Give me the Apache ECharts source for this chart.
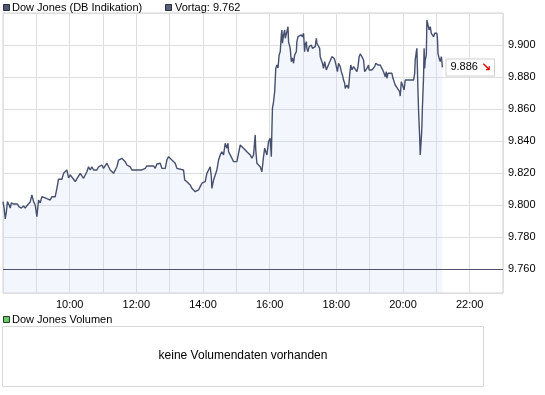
<!DOCTYPE html>
<html><head><meta charset="utf-8">
<script src="https://cdn.jsdelivr.net/npm/echarts@6/dist/echarts.min.js"></script>
<style>html,body{margin:0;padding:0;background:#fff}#c{width:545px;height:395px}</style>
</head><body><div id="c"></div>
<script>
const seriesName = 'Dow Jones (DB Indikation)';
const prevLabel = 'Vortag';
const prevClose = 9.762;
const volumeTitle = 'Dow Jones Volumen';
const volumeNote = 'keine Volumendaten vorhanden';

const times = [
"08:00","08:02","08:04","08:06","08:08","08:11","08:13","08:15","08:19","08:22",
"08:26","08:29","08:33","08:37","08:40","08:44","08:47","08:49","08:52","08:55",
"08:58","09:01","09:04","09:07","09:10","09:13","09:16","09:20","09:25","09:28",
"09:34","09:37","09:40","09:46","09:49","09:52","09:55","09:58","10:01","10:07",
"10:10","10:14","10:19","10:22","10:25","10:31","10:34","10:37","10:40","10:43",
"10:46","10:49","10:52","10:55",
"10:58","11:01","11:04","11:07","11:10","11:13","11:16","11:19","11:22","11:25",
"11:28","11:34","11:37","11:40","11:43","11:46","11:49","11:52","11:55","11:58",
"12:10","12:11","12:16","12:19","12:31","12:34","12:37","12:40","12:43","12:46",
"12:52","12:55","12:58","13:01","13:04","13:07","13:10","13:13","13:16","13:25",
"13:27","13:31","13:34",
"13:37","13:40","13:43","13:46","13:52","13:55","13:58","14:01","14:04","14:07",
"14:10","14:13","14:15","14:16","14:19","14:22","14:25","14:28","14:31","14:34",
"14:37","14:40","14:43","14:45","14:46","14:49","14:52","14:55","14:58","15:01",
"15:04","15:07","15:10","15:13","15:16","15:19","15:22","15:25","15:28","15:31",
"15:34","15:35","15:37","15:40","15:43","15:46","15:49","15:51","15:52","15:55",
"15:58","16:01","16:03","16:04",
"16:05","16:07","16:09","16:11","16:13","16:15","16:17","16:19","16:21","16:22",
"16:23","16:25","16:27","16:28","16:30","16:31","16:33","16:34","16:37","16:39",
"16:41","16:43","16:45","16:48","16:49","16:51","16:53","16:57","16:59","17:01",
"17:03","17:04","17:06","17:07","17:09","17:11","17:13","17:15","17:17","17:19",
"17:22","17:24","17:25","17:28","17:30","17:31","17:33","17:35","17:37","17:39",
"17:42","17:43","17:45","17:47","17:49","17:52","17:54","17:56","17:58","18:00",
"18:02","18:04","18:07","18:09","18:11","18:13","18:15","18:16","18:19","18:22",
"18:24","18:26","18:28","18:31","18:34",
"18:37","18:39","18:41","18:43","18:46","18:49","18:51","18:53","18:55","18:58",
"18:59","19:04","19:07","19:09","19:11","19:13","19:15","19:17","19:19","19:22",
"19:25","19:27","19:28","19:30","19:31","19:33","19:35","19:40","19:42","19:44",
"19:46","19:48","19:50","19:52","19:54","19:55","19:57","19:58","20:00","20:02",
"20:04","20:19","20:21","20:22","20:24","20:25","20:27","20:28","20:30","20:31",
"20:33","20:34","20:35","20:37","20:38","20:39","20:40","20:42","20:43","20:45",
"20:47","20:49","20:51","20:53","20:55","20:57","20:58","21:01","21:02","21:03",
"21:05","21:07","21:09","21:10","21:11"
];

const values = [
9.8021,9.7981,9.7913,9.7956,9.8021,9.8000,9.7981,9.8013,9.8006,9.7994,
9.8006,9.7988,9.7981,9.7994,9.7981,9.8000,9.7988,9.8019,9.8063,9.8021,
9.8000,9.7927,9.8031,9.8013,9.8052,9.8063,9.8044,9.8038,9.8031,9.8052,
9.8052,9.8104,9.8161,9.8161,9.8198,9.8188,9.8219,9.8169,9.8188,9.8161,
9.8146,9.8169,9.8198,9.8194,9.8167,9.8208,9.8239,9.8219,9.8239,9.8219,
9.8229,9.8219,9.8239,9.8229,
9.8250,9.8229,9.8239,9.8261,9.8250,9.8219,9.8208,9.8198,9.8192,9.8239,
9.8281,9.8292,9.8302,9.8271,9.8250,9.8261,9.8239,9.8219,9.8208,9.8219,
9.8219,9.8208,9.8229,9.8244,9.8244,9.8229,9.8256,9.8250,9.8261,9.8229,
9.8229,9.8281,9.8302,9.8302,9.8281,9.8292,9.8261,9.8229,9.8219,9.8219,
9.8156,9.8146,9.8156,
9.8125,9.8104,9.8094,9.8083,9.8094,9.8115,9.8136,9.8146,9.8146,9.8198,
9.8188,9.8239,9.8177,9.8104,9.8156,9.8167,9.8219,9.8281,9.8313,9.8333,
9.8313,9.8386,9.8355,9.8386,9.8333,9.8313,9.8292,9.8271,9.8281,9.8271,
9.8261,9.8375,9.8386,9.8355,9.8344,9.8333,9.8323,9.8313,9.8292,9.8313,
9.8438,9.8344,9.8261,9.8271,9.8239,9.8208,9.8302,9.8355,9.8344,9.8313,
9.8396,9.8417,9.8302,9.8469,
9.8604,9.8646,9.8708,9.8854,9.8875,9.8856,9.8938,9.8958,9.9063,9.9094,
9.9011,9.9063,9.9094,9.9042,9.9031,9.9083,9.9114,9.9021,9.8979,9.8896,
9.8919,9.8886,9.8938,9.8958,9.9021,9.9052,9.9044,9.9063,9.9050,9.9073,
9.8958,9.9000,9.9021,9.8979,9.8958,9.8990,9.8979,9.9000,9.8979,9.8990,
9.8990,9.9042,9.9011,9.9000,9.8979,9.8927,9.8917,9.8886,9.8854,9.8896,
9.8844,9.8854,9.8844,9.8886,9.8896,9.8927,9.8938,9.8917,9.8896,9.8865,
9.8833,9.8886,9.8865,9.8833,9.8813,9.8781,9.8761,9.8729,9.8750,9.8729,
9.8813,9.8875,9.8844,9.8865,9.8854,
9.8833,9.8865,9.8927,9.8944,9.8927,9.8906,9.8833,9.8844,9.8854,9.8875,
9.8844,9.8844,9.8833,9.8865,9.8886,9.8896,9.8875,9.8865,9.8875,9.8854,
9.8833,9.8823,9.8802,9.8833,9.8792,9.8823,9.8813,9.8823,9.8792,9.8771,
9.8750,9.8761,9.8729,9.8719,9.8708,9.8681,9.8771,9.8781,9.8740,9.8719,
9.8781,9.8781,9.8823,9.8906,9.8958,9.8979,9.8708,9.8594,9.8427,9.8313,
9.8417,9.8489,9.8615,9.8802,9.8979,9.8854,9.8906,9.8938,9.9156,9.9125,
9.9094,9.9115,9.9073,9.9083,9.9052,9.9073,9.9083,9.9073,9.9042,9.8948,
9.8917,9.8896,9.8927,9.8896,9.8860
];

const F = '"Liberation Sans", Arial, sans-serif';
const toMin = t => { const p = t.split(':').map(Number); return p[0] * 60 + p[1]; };
const data = times.map((t, i) => [toMin(t), values[i]]);
const last = values[values.length - 1];

const chart = echarts.init(document.getElementById('c'), null, {renderer: 'canvas'});
chart.setOption({
  animation: false,
  textStyle: {fontFamily: F},
  grid: {left: 3, top: 13, width: 500, height: 280, show: true, borderColor: '#d4d4d4', borderWidth: 1},
  xAxis: {
    type: 'value', min: 480, max: 1380, interval: 60,
    axisLine: {show: false}, axisTick: {show: false},
    splitLine: {show: true, lineStyle: {color: '#dedede', width: 1}},
    axisLabel: {margin: 6, color: '#000', fontSize: 11, fontFamily: F,
      formatter: v => (v % 120 === 0 && v > 480 && v < 1380) ? (v / 60) + ':00' : ''}
  },
  yAxis: {
    type: 'value', position: 'right', min: 9.745, max: 9.92, splitNumber: 9,
    axisLine: {show: false}, axisTick: {show: false},
    splitLine: {show: true, lineStyle: {color: '#dedede', width: 1}},
    axisLabel: {margin: 5, color: '#000', fontSize: 11, fontFamily: F, showMinLabel: false, showMaxLabel: false,
      formatter: v => v.toFixed(3)}
  },
  series: [{
    name: seriesName, type: 'line', data: data, symbol: 'none', showSymbol: false,
    lineStyle: {color: '#46506e', width: 1.4},
    areaStyle: {color: 'rgba(200,212,240,0.3)', origin: 'start'},
    endLabel: {
      show: true, distance: 4,
      formatter: () => '{v|' + last.toFixed(3) + '}{a|\u2198}',
      backgroundColor: '#fff', borderColor: '#d0d0d0', borderWidth: 1,
      padding: [2, 3, 2, 4],
      rich: {
        v: {fontSize: 11, color: '#000', fontFamily: F},
        a: {fontSize: 12, color: '#ee0000', fontWeight: 'bold', fontFamily: '"DejaVu Sans", sans-serif', padding: [0, 0, 0, 3]}
      }
    },
    markLine: {
      silent: true, symbol: 'none', label: {show: false},
      lineStyle: {color: '#50536c', width: 1, type: 'solid'},
      data: [{yAxis: prevClose}]
    }
  }],
  graphic: [
    {type: 'rect', shape: {x: 3.5, y: 4.5, width: 6, height: 6}, style: {fill: '#4f566f', stroke: '#2a2d3a', lineWidth: 1}},
    {type: 'text', x: 12, y: 8, style: {text: seriesName, font: '11px ' + F, fill: '#000', verticalAlign: 'middle'}},
    {type: 'rect', shape: {x: 165.5, y: 4.5, width: 6, height: 6}, style: {fill: '#5a607a', stroke: '#2a2d3a', lineWidth: 1}},
    {type: 'text', x: 175, y: 8, style: {text: prevLabel + ': ' + prevClose.toFixed(3), font: '11px ' + F, fill: '#000', verticalAlign: 'middle'}},
    {type: 'rect', shape: {x: 3.5, y: 316.5, width: 6, height: 6}, style: {fill: '#66cc66', stroke: '#2a3a2a', lineWidth: 1}},
    {type: 'text', x: 12, y: 320, style: {text: volumeTitle, font: '11px ' + F, fill: '#000', verticalAlign: 'middle'}},
    {type: 'rect', shape: {x: 2.5, y: 326.5, width: 481, height: 60}, style: {fill: 'none', stroke: '#d8d8d8', lineWidth: 1}},
    {type: 'text', x: 243, y: 356, style: {text: volumeNote, font: '12px ' + F, fill: '#000', align: 'center', verticalAlign: 'middle'}}
  ]
});
</script></body></html>
